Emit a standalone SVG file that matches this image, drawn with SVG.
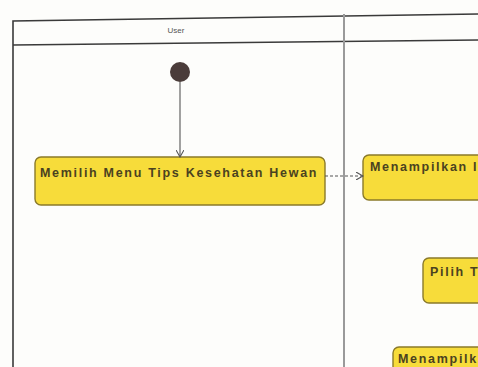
<svg xmlns="http://www.w3.org/2000/svg" width="478" height="367" viewBox="0 0 478 367">
<defs>
<style>
.lane{fill:none;stroke:#3a3a3a;stroke-width:1.6}
.div{stroke:#9a9a9a;stroke-width:2}
.act{fill:#f7dc3a;stroke:#8a7a2a;stroke-width:1.4}
.t{font-family:"Liberation Sans",Arial,sans-serif;font-size:12.5px;font-weight:bold;letter-spacing:1.7px;fill:#4a4220}
.h{font-family:"Liberation Sans",Arial,sans-serif;font-size:8px;fill:#555}
.edge{fill:none;stroke:#555;stroke-width:1.1}
</style>
<marker id="arr" markerWidth="8" markerHeight="8" refX="7" refY="4" orient="auto" markerUnits="userSpaceOnUse">
<path d="M0,0 L7,4 L0,8" fill="none" stroke="#555" stroke-width="1.1"/>
</marker>
</defs>
<rect width="478" height="367" fill="#fdfdfb"/>
<g id="swimlanes">
<path class="lane" d="M13,367 V21 L478,14"/>
<path class="lane" d="M13,45 L478,40"/>
<line class="div" x1="344" y1="14" x2="344" y2="367"/>
<text class="h" x="176" y="33" text-anchor="middle">User</text>
</g>
<g id="start">
<circle cx="180" cy="72" r="10" fill="#4a3c3a"/>
</g>
<g id="n1">
<rect class="act" x="35" y="157" width="290" height="48" rx="6"/>
<text class="t" x="40" y="177">Memilih Menu Tips Kesehatan Hewan</text>
</g>
<g id="n2">
<rect class="act" x="363" y="155" width="130" height="45" rx="6"/>
<text class="t" x="370" y="171">Menampilkan I</text>
</g>
<g id="n3">
<rect class="act" x="423" y="258" width="70" height="45" rx="6"/>
<text class="t" x="430" y="276">Pilih T</text>
</g>
<g id="n4">
<rect class="act" x="393" y="347" width="100" height="40" rx="6"/>
<text class="t" x="398" y="363">Menampilk</text>
</g>
<g id="connectors">
<path class="edge" d="M180,82 V157" marker-end="url(#arr)"/>
<path class="edge" d="M325,176 H363" stroke-dasharray="3,2" marker-end="url(#arr)"/>
</g>
</svg>
